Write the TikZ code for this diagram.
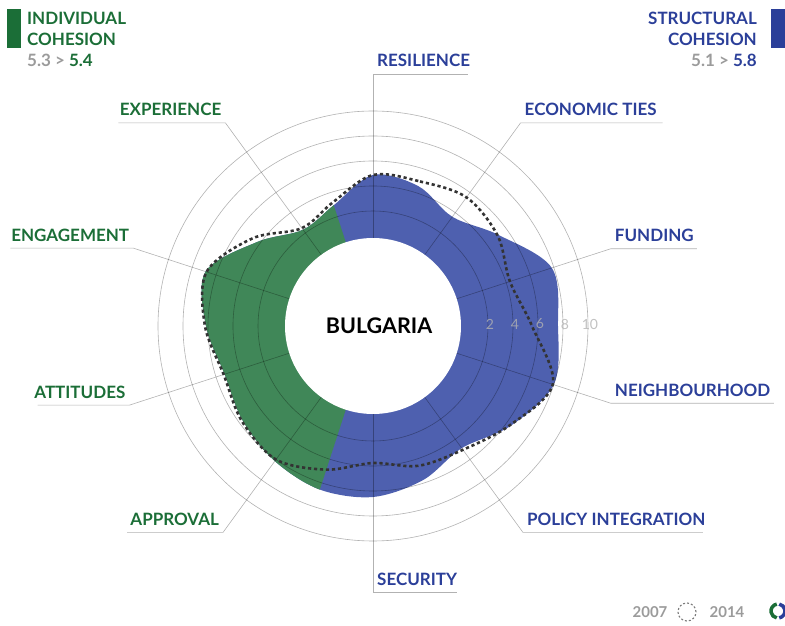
\documentclass[tikz,border=0pt]{standalone}
\usepackage{fontspec}
\setmainfont{Lato}

\definecolor{vertfond}{HTML}{408758}
\definecolor{bleufond}{HTML}{4E60AF}
\definecolor{verttxt}{HTML}{1B6E37}
\definecolor{bleutxt}{HTML}{2B3F99}
\definecolor{gristxt}{HTML}{9B9B9B}

\newcommand{\rv}[1]{90+12.5*#1}
\newcommand{\taille}[1]{\fontsize{#1}{#1}\selectfont}

% contour 2014 (rayons tous les 18 degres)
\newcommand{\formeNew}{plot[smooth cycle,tension=.55] coordinates {
    (90:151) (72:147) (54:135) (36:155) (18:188) (0:185) (-18:190) (-36:170)
    (-54:151) (-72:162) (-90:171) (-108:172) (-126:167) (-144:161) (-162:156)
    (180:167) (162:176) (144:143) (126:119) (108:127)}}
% contour 2007
\newcommand{\formeOld}{plot[smooth cycle,tension=.55] coordinates {
    (90:151) (72:152) (54:159) (36:154) (18:144) (0:159) (-18:189) (-36:169)
    (-54:153) (-72:147) (-90:137) (-108:151) (-126:165) (-144:162) (-162:157)
    (180:168) (162:175) (144:149) (126:121) (108:130)}}

\begin{document}
\begin{tikzpicture}[x=1pt,y=1pt,
    anneau/.style={black,opacity=.3,line width=.6pt},
    trace07/.style={black!80,line width=2.6pt,dash pattern=on 3.2pt off 2.8pt},
    lblb/.style={text=bleutxt,font=\bfseries\taille{17},inner sep=0pt,anchor=base west,xshift=4pt,yshift=7pt},
    lblv/.style={text=verttxt,font=\bfseries\taille{17},inner sep=0pt,anchor=base east,xshift=-4pt,yshift=7pt},
    num/.style={text=black!30,opacity=.8,font=\taille{14},inner sep=0pt}]
    \useasboundingbox (-373,-300) rectangle (412,326);

    % Remplissage 2014 : bleu puis secteur vert
    \fill[bleufond] \formeNew;
    \begin{scope}
        \clip (0,0) -- (108:320) arc[start angle=108,end angle=252,radius=320] -- cycle;
        \fill[vertfond] \formeNew;
    \end{scope}
    \fill[white] (0,0) circle (88);

    % Anneaux de graduation
    \foreach \v in {2,4,...,10}{
        \draw[anneau] (0,0) circle ({\rv{\v}});
    }

    % Axes, renvois et etiquettes
    \foreach \nom/\ang/\rb/\dx/\sty/\txt in {
        res/90/252/95/lblb/RESILIENCE,
        eco/54/251/142/lblb/ECONOMIC TIES,
        fun/18/250/86/lblb/FUNDING,
        nei/-18/250/163/lblb/NEIGHBOURHOOD,
        pol/-54/255/180/lblb/POLICY INTEGRATION,
        sec/-90/266/84/lblb/SECURITY,
        app/234/255/-96/lblv/APPROVAL,
        att/198/256/-92/lblv/ATTITUDES,
        eng/162/252/-123/lblv/ENGAGEMENT,
        exp/126/251/-107/lblv/EXPERIENCE}{
        \coordinate (\nom-i) at (\ang:88);
        \coordinate (\nom-b) at (\ang:\rb);
        \coordinate (\nom-f) at ([xshift=\dx pt]\nom-b);
        \draw[anneau] (\nom-i) -- (\nom-b) -- (\nom-f);
        \node[\sty] (\nom) at (\nom-b) {\txt};
    }

    % Contour 2007 en pointilles
    \draw[trace07] \formeOld;

    % Valeurs des anneaux
    \foreach \v in {2,4,...,10}{
        \node[num] (n\v) at ({\rv{\v}+2},2) {\v};
    }

    % Pays au centre
    \node[font=\bfseries\taille{21.5},inner sep=0pt] (pays) at (6,0) {BULGARIA};

    % En-tetes
    \fill[verttxt] (-366,278) rectangle (-352,317);
    \node[text=verttxt,font=\bfseries\taille{17},inner sep=0pt,anchor=base west] (ind1) at (-346,301) {INDIVIDUAL};
    \node[text=verttxt,font=\bfseries\taille{17},inner sep=0pt,anchor=base west] (ind2) at (-346,280) {COHESION};
    \node[text=verttxt,font=\bfseries\taille{17},inner sep=0pt,anchor=base west] (ind3) at (-346,259) {\textcolor{gristxt}{5.3 >} 5.4};
    \fill[bleutxt] (398,278) rectangle (412,317);
    \node[text=bleutxt,font=\bfseries\taille{17},inner sep=0pt,anchor=base east] (str1) at (384,301) {STRUCTURAL};
    \node[text=bleutxt,font=\bfseries\taille{17},inner sep=0pt,anchor=base east] (str2) at (384,280) {COHESION};
    \node[text=bleutxt,font=\bfseries\taille{17},inner sep=0pt,anchor=base east] (str3) at (384,259) {\textcolor{gristxt}{5.1 >} 5.8};

    % Legende
    \node[text=gristxt,font=\bfseries\taille{15},inner sep=0pt] (an07) at (277,-286) {2007};
    \draw[gristxt!80!black,line width=1.1pt,dash pattern=on 2pt off 2pt] (314,-286) circle (9);
    \node[text=gristxt,font=\bfseries\taille{15},inner sep=0pt] (an14) at (354,-286) {2014};
    \draw[verttxt,line width=3.5pt] (405,-285) ++(100:7) arc[start angle=100,end angle=260,radius=7];
    \draw[bleutxt,line width=3.5pt] (405,-285) ++(-80:7) arc[start angle=-80,end angle=80,radius=7];
\end{tikzpicture}
\end{document}
